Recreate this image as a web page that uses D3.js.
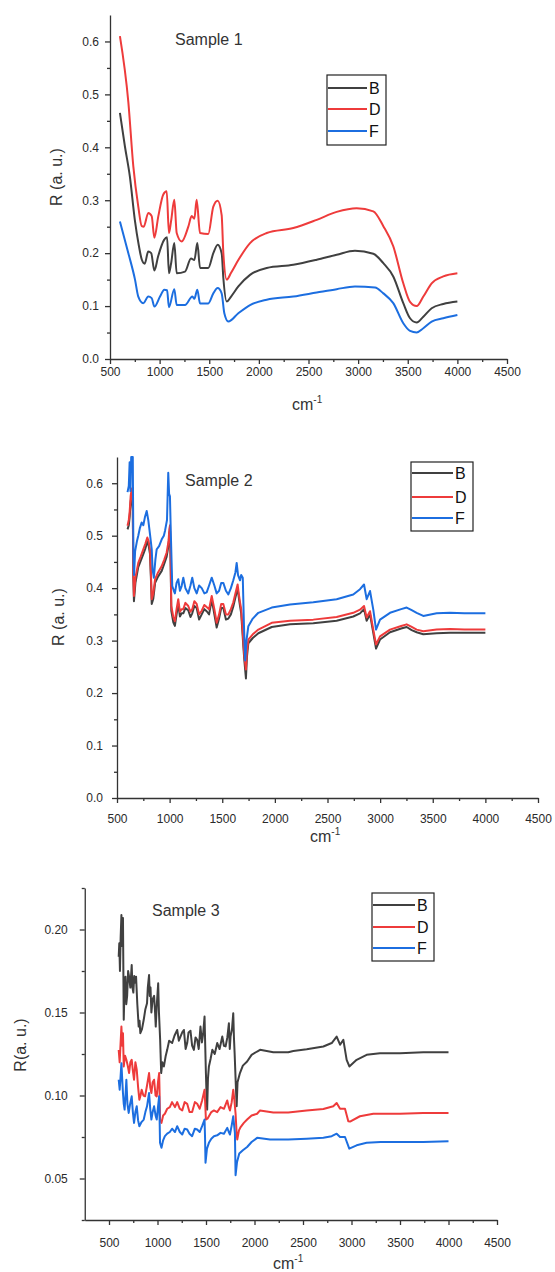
<!DOCTYPE html>
<html>
<head>
<meta charset="utf-8">
<script src="https://cdn.jsdelivr.net/npm/d3@7"></script>
<style>
  body { margin: 0; background: #fff; }
  svg { display: block; }
  .tick text { font-family: "Liberation Sans", Arial, sans-serif; font-size: 12px; fill: #2a2a2a; }
  .axis path, .axis line { stroke: #333; stroke-width: 1.3; }
</style>
</head>
<body>
<script>
// series names and colours
var seriesNames = ["B", "D", "F"];
var seriesColors = ["#404040", "#ee3b3b", "#1c6ee0"];

// ticks
var xTicks = [500, 1000, 1500, 2000, 2500, 3000, 3500, 4000, 4500];
var xMinor = [750, 1250, 1750, 2250, 2750, 3250, 3750, 4250];
var yTicks12 = [0, 0.1, 0.2, 0.3, 0.4, 0.5, 0.6];
var yMinor12 = [0.05, 0.15, 0.25, 0.35, 0.45, 0.55];
var yTicks3 = [0.05, 0.10, 0.15, 0.20];
var yMinor3 = [0.025, 0.075, 0.125, 0.175, 0.225];

// Sample 1 : [wavenumber, R]
var s1B = [[600,0.465],[650,0.402],[700,0.345],[750,0.263],[790,0.215],[820,0.188],[850,0.18],[885,0.203],[915,0.2],[947,0.167],[985,0.194],[1045,0.225],[1075,0.23],[1094,0.162],[1115,0.18],[1148,0.219],[1172,0.162],[1256,0.165],[1316,0.19],[1350,0.187],[1380,0.219],[1407,0.172],[1490,0.172],[1541,0.2],[1585,0.216],[1625,0.2],[1642,0.153],[1676,0.1085],[1720,0.118],[1793,0.137],[1911,0.159],[2079,0.172],[2347,0.178],[2583,0.1875],[2784,0.197],[2968,0.2045],[3153,0.199],[3254,0.181],[3354,0.156],[3455,0.1055],[3523,0.077],[3590,0.069],[3657,0.08],[3741,0.096],[3858,0.104],[4000,0.1085]];
var s1D = [[600,0.61],[685,0.485],[735,0.364],[785,0.288],[820,0.251],[840,0.25],[886,0.276],[920,0.27],[947,0.229],[987,0.27],[1037,0.311],[1071,0.317],[1094,0.238],[1115,0.26],[1148,0.301],[1172,0.238],[1222,0.222],[1289,0.25],[1323,0.27],[1350,0.265],[1373,0.301],[1407,0.238],[1490,0.236],[1541,0.288],[1585,0.299],[1625,0.272],[1642,0.2],[1676,0.15],[1720,0.163],[1793,0.187],[1911,0.219],[2079,0.238],[2347,0.2475],[2583,0.263],[2784,0.278],[2985,0.285],[3153,0.279],[3254,0.251],[3354,0.213],[3455,0.143],[3523,0.108],[3590,0.1],[3657,0.118],[3741,0.143],[3858,0.156],[4000,0.162]];
var s1F = [[600,0.26],[685,0.2],[752,0.15],[785,0.118],[835,0.1055],[886,0.118],[920,0.115],[947,0.099],[1004,0.118],[1047,0.131],[1075,0.13],[1094,0.098],[1148,0.132],[1172,0.102],[1256,0.102],[1330,0.118],[1350,0.114],[1380,0.131],[1407,0.105],[1490,0.105],[1541,0.124],[1585,0.134],[1625,0.124],[1652,0.0865],[1692,0.0707],[1793,0.0865],[1911,0.102],[2079,0.112],[2347,0.118],[2583,0.1256],[2784,0.132],[2968,0.137],[3170,0.135],[3254,0.124],[3354,0.1055],[3455,0.0676],[3523,0.053],[3590,0.05],[3657,0.058],[3741,0.0707],[3858,0.077],[4000,0.083]];

// Sample 2
var s2B = [[600,0.512],[612,0.52],[620,0.535],[630,0.565],[640,0.58],[650,0.55],[655,0.42],[661,0.375],[675,0.41],[702,0.44],[725,0.452],[750,0.465],[770,0.476],[788,0.488],[800,0.482],[813,0.466],[822,0.42],[830,0.37],[845,0.38],[862,0.41],[890,0.422],[925,0.433],[950,0.447],[972,0.46],[990,0.482],[997,0.505],[1004,0.51],[1010,0.44],[1016,0.357],[1035,0.335],[1050,0.328],[1066,0.35],[1082,0.37],[1098,0.346],[1114,0.352],[1130,0.352],[1150,0.362],[1177,0.358],[1198,0.345],[1215,0.352],[1235,0.366],[1257,0.362],[1280,0.34],[1305,0.35],[1330,0.36],[1352,0.356],[1375,0.35],[1400,0.378],[1425,0.35],[1447,0.325],[1470,0.342],[1490,0.362],[1510,0.362],[1535,0.34],[1558,0.342],[1582,0.35],[1605,0.365],[1625,0.382],[1646,0.4],[1660,0.378],[1669,0.366],[1680,0.352],[1690,0.322],[1700,0.29],[1710,0.262],[1725,0.228],[1735,0.27],[1748,0.295],[1790,0.305],[1843,0.314],[1970,0.326],[2144,0.331],[2365,0.333],[2587,0.338],[2745,0.346],[2809,0.352],[2847,0.36],[2872,0.338],[2904,0.35],[2935,0.315],[2961,0.285],[2999,0.302],[3094,0.316],[3200,0.323],[3252,0.326],[3300,0.32],[3347,0.316],[3410,0.312],[3537,0.314],[3664,0.315],[3800,0.315],[4000,0.315]];
var s2D = [[600,0.519],[612,0.53],[620,0.545],[630,0.576],[640,0.59],[650,0.56],[655,0.43],[661,0.385],[675,0.42],[702,0.448],[725,0.46],[750,0.474],[770,0.485],[788,0.4965],[800,0.49],[813,0.474],[822,0.43],[830,0.379],[845,0.39],[862,0.417],[890,0.43],[925,0.442],[950,0.455],[972,0.468],[990,0.49],[997,0.512],[1004,0.52],[1010,0.45],[1016,0.366],[1035,0.345],[1050,0.337],[1066,0.36],[1082,0.379],[1098,0.355],[1114,0.36],[1130,0.36],[1150,0.372],[1177,0.366],[1198,0.355],[1215,0.36],[1235,0.375],[1257,0.37],[1280,0.35],[1305,0.357],[1330,0.368],[1352,0.364],[1375,0.36],[1400,0.385],[1425,0.36],[1447,0.334],[1470,0.35],[1490,0.37],[1510,0.37],[1535,0.35],[1558,0.35],[1582,0.36],[1605,0.373],[1625,0.39],[1646,0.407],[1660,0.385],[1669,0.373],[1680,0.36],[1690,0.33],[1700,0.3],[1710,0.27],[1725,0.245],[1735,0.28],[1748,0.302],[1790,0.312],[1843,0.321],[1970,0.334],[2144,0.338],[2365,0.34],[2587,0.345],[2745,0.353],[2809,0.359],[2847,0.366],[2872,0.344],[2904,0.356],[2935,0.321],[2961,0.2925],[2999,0.308],[3094,0.321],[3200,0.328],[3252,0.331],[3300,0.326],[3347,0.321],[3410,0.318],[3537,0.321],[3664,0.322],[3800,0.321],[4000,0.321]];
var s2F = [[600,0.583],[612,0.595],[620,0.64],[628,0.585],[635,0.65],[650,0.65],[656,0.46],[662,0.425],[672,0.47],[690,0.49],[702,0.5],[718,0.515],[734,0.525],[750,0.52],[765,0.535],[782,0.547],[797,0.53],[815,0.5],[830,0.474],[838,0.436],[850,0.42],[865,0.455],[877,0.474],[900,0.48],[925,0.493],[945,0.5],[957,0.51],[975,0.53],[987,0.62],[995,0.58],[1003,0.575],[1012,0.5],[1025,0.404],[1040,0.395],[1050,0.39],[1066,0.41],[1082,0.417],[1098,0.395],[1114,0.404],[1130,0.42],[1150,0.4],[1177,0.39],[1198,0.405],[1215,0.42],[1235,0.4],[1257,0.39],[1280,0.405],[1305,0.4],[1330,0.39],[1352,0.392],[1375,0.405],[1400,0.42],[1425,0.405],[1447,0.39],[1470,0.395],[1490,0.41],[1510,0.41],[1535,0.395],[1558,0.388],[1582,0.4],[1605,0.415],[1625,0.43],[1637,0.448],[1650,0.425],[1669,0.415],[1680,0.425],[1695,0.42],[1706,0.33],[1718,0.262],[1730,0.3],[1748,0.3275],[1790,0.342],[1843,0.353],[1970,0.363],[2144,0.369],[2365,0.373],[2587,0.379],[2745,0.388],[2809,0.398],[2847,0.407],[2872,0.379],[2904,0.3945],[2935,0.359],[2961,0.321],[2999,0.34],[3094,0.353],[3200,0.36],[3252,0.363],[3300,0.358],[3347,0.353],[3410,0.347],[3537,0.352],[3664,0.353],[3800,0.352],[4000,0.352]];

// Sample 3
var s3B = [[600,0.1836],[606,0.1917],[613,0.175],[620,0.195],[628,0.2087],[636,0.19],[644,0.207],[652,0.1456],[660,0.165],[670,0.1716],[678,0.155],[687,0.16],[697,0.175],[707,0.1716],[720,0.165],[734,0.1786],[742,0.165],[751,0.162],[760,0.172],[770,0.168],[779,0.1716],[792,0.155],[806,0.1415],[815,0.145],[823,0.1375],[840,0.14],[858,0.1456],[875,0.152],[892,0.1556],[900,0.165],[913,0.1726],[920,0.16],[928,0.165],[937,0.15],[950,0.158],[965,0.16],[975,0.15],[982,0.1415],[993,0.155],[1007,0.1676],[1015,0.15],[1027,0.134],[1038,0.1135],[1050,0.12],[1066,0.1175],[1085,0.124],[1100,0.1275],[1120,0.133],[1151,0.1316],[1175,0.136],[1203,0.1395],[1220,0.133],[1237,0.1355],[1255,0.138],[1272,0.1395],[1290,0.128],[1306,0.1316],[1320,0.138],[1340,0.139],[1357,0.13],[1375,0.1275],[1392,0.135],[1409,0.1336],[1425,0.128],[1443,0.1415],[1458,0.132],[1471,0.1375],[1485,0.1476],[1492,0.13],[1499,0.1135],[1506,0.1],[1512,0.0915],[1520,0.11],[1530,0.1175],[1547,0.122],[1565,0.1275],[1590,0.125],[1616,0.1316],[1640,0.128],[1668,0.1355],[1685,0.13],[1702,0.1296],[1720,0.135],[1736,0.1435],[1745,0.128],[1753,0.1355],[1768,0.14],[1781,0.1496],[1788,0.135],[1795,0.1256],[1805,0.11],[1816,0.0935],[1825,0.108],[1850,0.1135],[1880,0.118],[1924,0.1205],[1970,0.1245],[2027,0.1265],[2057,0.1275],[2194,0.1261],[2348,0.126],[2400,0.1268],[2538,0.1278],[2710,0.1295],[2796,0.1316],[2847,0.1355],[2882,0.1306],[2916,0.1335],[2950,0.1215],[2978,0.1175],[3053,0.1215],[3156,0.1245],[3293,0.1255],[3500,0.1255],[3740,0.126],[4000,0.126]];
var s3D = [[600,0.1275],[610,0.12],[618,0.13],[628,0.1415],[636,0.13],[644,0.1375],[652,0.1175],[665,0.124],[679,0.1215],[693,0.118],[707,0.1135],[720,0.12],[734,0.1215],[746,0.115],[758,0.1095],[772,0.12],[786,0.1155],[800,0.105],[813,0.0975],[825,0.1],[837,0.1035],[855,0.1],[872,0.0995],[892,0.106],[913,0.1135],[925,0.105],[937,0.1015],[950,0.108],[965,0.1095],[980,0.1],[992,0.0995],[1005,0.108],[1017,0.1135],[1022,0.1],[1026,0.0855],[1041,0.0835],[1058,0.088],[1076,0.089],[1100,0.092],[1127,0.093],[1150,0.096],[1180,0.093],[1203,0.096],[1230,0.092],[1255,0.091],[1280,0.096],[1306,0.095],[1330,0.09],[1357,0.09],[1385,0.096],[1409,0.095],[1435,0.092],[1460,0.097],[1485,0.1035],[1492,0.095],[1499,0.0855],[1515,0.086],[1530,0.0875],[1555,0.09],[1582,0.091],[1615,0.09],[1650,0.093],[1685,0.092],[1719,0.097],[1735,0.093],[1747,0.091],[1765,0.096],[1781,0.1035],[1793,0.097],[1805,0.089],[1815,0.078],[1822,0.0735],[1840,0.079],[1857,0.081],[1890,0.0835],[1924,0.0855],[1970,0.088],[2027,0.089],[2057,0.091],[2194,0.0897],[2348,0.0897],[2538,0.091],[2710,0.0919],[2812,0.0935],[2847,0.0955],[2882,0.092],[2933,0.092],[2967,0.0845],[2985,0.0843],[3087,0.0875],[3225,0.089],[3500,0.089],[3740,0.0895],[4000,0.0895]];
var s3F = [[600,0.1095],[610,0.1035],[618,0.11],[628,0.1195],[636,0.11],[644,0.1015],[652,0.095],[661,0.0915],[670,0.1],[679,0.1095],[690,0.095],[703,0.0895],[718,0.095],[734,0.0995],[746,0.09],[758,0.0835],[772,0.09],[786,0.0935],[800,0.085],[813,0.0815],[835,0.084],[858,0.0855],[875,0.09],[892,0.0935],[913,0.1015],[925,0.092],[937,0.0855],[950,0.09],[965,0.0935],[980,0.088],[992,0.0855],[1005,0.093],[1017,0.0995],[1022,0.085],[1026,0.0715],[1041,0.0685],[1058,0.073],[1076,0.0755],[1100,0.077],[1127,0.078],[1150,0.08],[1180,0.078],[1203,0.0815],[1230,0.078],[1255,0.0765],[1280,0.08],[1306,0.0795],[1330,0.077],[1357,0.0755],[1385,0.08],[1409,0.0795],[1435,0.078],[1460,0.0815],[1485,0.0855],[1490,0.075],[1495,0.0595],[1510,0.068],[1530,0.0715],[1555,0.074],[1582,0.0755],[1615,0.076],[1650,0.0775],[1685,0.077],[1719,0.0805],[1735,0.078],[1747,0.0765],[1765,0.082],[1781,0.0875],[1790,0.082],[1798,0.0775],[1805,0.052],[1820,0.06],[1843,0.065],[1880,0.067],[1924,0.069],[1970,0.072],[2027,0.0745],[2160,0.0735],[2348,0.0735],[2538,0.074],[2710,0.0745],[2796,0.0755],[2847,0.077],[2882,0.075],[2933,0.075],[2977,0.068],[3053,0.07],[3156,0.0715],[3300,0.072],[3500,0.072],[3740,0.072],[4000,0.0725]];

var width = 555, height = 1272;

var svg = d3.select("body").append("svg")
    .attr("width", width)
    .attr("height", height);

// layout of each panel (pixels)
var panels = [
  { title: "Sample 1", ylab: "R (a. u.)", data: [s1B, s1D, s1F],
    xr: [110, 507], xd: [500, 4500], yr: [359, 15], yd: [0, 0.65],
    yt: yTicks12, ym: yMinor12, fmt: ".1f", curve: d3.curveMonotoneX,
    xPad: 3, yPad: 6, titlePos: [175, 45], ylabPos: [56, 177], xlabPos: [292, 410],
    legend: { x: 327, y: 75, w: 59, h: 70, rows: [88, 109, 131], lx: [328, 367] } },
  { title: "Sample 2", ylab: "R (a. u.)", data: [s2B, s2D, s2F],
    xr: [117, 538], xd: [500, 4500], yr: [798, 457], yd: [0, 0.65],
    yt: yTicks12, ym: yMinor12, fmt: ".1f", curve: d3.curveLinear,
    xPad: 11, yPad: 9, titlePos: [185, 486], ylabPos: [58, 617], xlabPos: [310, 842],
    legend: { x: 411, y: 462, w: 62, h: 69, rows: [473, 497, 518], lx: [412, 453] } },
  { title: "Sample 3", ylab: "R(a. u.)", data: [s3B, s3D, s3F],
    xr: [84.75, 497], xd: [250, 4500], yr: [1220, 888], yd: [0.025, 0.225],
    yt: yTicks3, ym: yMinor3, fmt: ".2f", curve: d3.curveLinear,
    xPad: 13, yPad: 12, titlePos: [152, 916], ylabPos: [20, 1045], xlabPos: [273, 1269],
    legend: { x: 372, y: 893, w: 62, h: 68, rows: [905, 927, 948], lx: [373, 415] } }
];

panels.forEach(drawPanel);

function drawPanel(p) {
  var x = d3.scaleLinear().domain(p.xd).range(p.xr);
  var y = d3.scaleLinear().domain(p.yd).range(p.yr);
  var g = svg.append("g");

  //minor ticks first
  g.append("g").attr("class", "axis")
      .attr("transform", "translate(0," + p.yr[0] + ")")
      .call(d3.axisBottom(x).tickValues(xMinor).tickSize(3).tickFormat(""))
      .select(".domain").remove();
  g.append("g").attr("class", "axis")
      .attr("transform", "translate(" + p.xr[0] + ",0)")
      .call(d3.axisLeft(y).tickValues(p.ym.filter(function(v) { return v <= p.yd[1]; })).tickSize(3).tickFormat(""))
      .select(".domain").remove();

  //major axes
  g.append("g").attr("class", "axis")
      .attr("transform", "translate(0," + p.yr[0] + ")")
      .call(d3.axisBottom(x).tickValues(xTicks).tickSize(5).tickSizeOuter(0)
        .tickPadding(p.xPad).tickFormat(d3.format("d")));
  g.append("g").attr("class", "axis")
      .attr("transform", "translate(" + p.xr[0] + ",0)")
      .call(d3.axisLeft(y).tickValues(p.yt).tickSize(5).tickSizeOuter(0)
        .tickPadding(p.yPad).tickFormat(d3.format(p.fmt)));

  //spectra
  var line = d3.line()
      .x(function(d) { return x(d[0]); })
      .y(function(d) { return y(d[1]); })
      .curve(p.curve);

  g.selectAll(".spec")
      .data(p.data)
      .enter()
      .append("path")
      .attr("fill", "none")
      .attr("stroke", function(d, i) { return seriesColors[i]; })
      .attr("stroke-width", 2)
      .attr("stroke-linejoin", "round")
      .attr("d", line);

  //title
  g.append("text")
      .attr("x", p.titlePos[0]).attr("y", p.titlePos[1])
      .style("font-family", "Liberation Sans, Arial, sans-serif")
      .style("font-size", "16px").style("fill", "#333")
      .text(p.title);

  //y label
  g.append("text")
      .attr("transform", "translate(" + p.ylabPos[0] + "," + p.ylabPos[1] + ") rotate(-90)")
      .attr("text-anchor", "middle").attr("dy", "0.35em")
      .style("font-family", "Liberation Sans, Arial, sans-serif")
      .style("font-size", "16px").style("fill", "#333")
      .text(p.ylab);

  //x label cm-1
  var xl = g.append("text")
      .attr("x", p.xlabPos[0]).attr("y", p.xlabPos[1])
      .style("font-family", "Liberation Sans, Arial, sans-serif")
      .style("font-size", "16px").style("fill", "#333");
  xl.append("tspan").text("cm");
  xl.append("tspan").attr("dy", "-7").style("font-size", "10px").text("-1");

  //legend
  var L = p.legend;
  g.append("rect")
      .attr("x", L.x).attr("y", L.y).attr("width", L.w).attr("height", L.h)
      .attr("fill", "#fff").attr("stroke", "#222").attr("stroke-width", 1.2);
  seriesNames.forEach(function(name, i) {
    g.append("line")
        .attr("x1", L.lx[0]).attr("x2", L.lx[1])
        .attr("y1", L.rows[i]).attr("y2", L.rows[i])
        .attr("stroke", seriesColors[i]).attr("stroke-width", 2);
    g.append("text")
        .attr("x", L.lx[1] + 2).attr("y", L.rows[i]).attr("dy", "0.36em")
        .style("font-family", "Liberation Sans, Arial, sans-serif")
        .style("font-size", "16px").style("fill", "#111")
        .text(name);
  });
}
</script>
</body>
</html>
